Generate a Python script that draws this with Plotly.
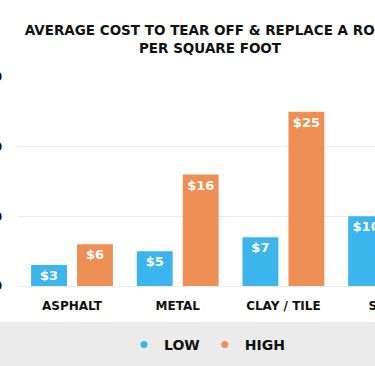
import plotly.graph_objects as go

categories = ["ASPHALT", "METAL", "CLAY / TILE", "SLATE"]
low_values = [3, 5, 7, 10]
high_values = [6, 16, 25, 30]
series_names = ["LOW", "HIGH"]
y_ticks = [0, 10, 20, 30]

BLUE = "#3cb4ec"
ORANGE = "#ee8f55"
FONT = "DejaVu Sans"
W = 420

fig = go.Figure()
for name, vals, col in [(series_names[0], low_values, BLUE), (series_names[1], high_values, ORANGE)]:
    fig.add_trace(go.Bar(
        x=categories, y=vals, name=name, marker=dict(color=col, line=dict(width=0)),
        text=[f"${v}" for v in vals], textposition="inside", insidetextanchor="end",
        textangle=0, constraintext="none",
        textfont=dict(family=FONT, size=13, color="white", weight=700),
        showlegend=False, cliponaxis=True,
    ))
    fig.add_trace(go.Scatter(
        x=[None], y=[None], mode="markers", name=name,
        marker=dict(color=col, size=7, symbol="circle"),
    ))

fig.update_layout(
    width=W, height=366,
    margin=dict(l=18, r=0, t=77, b=80),
    paper_bgcolor="white", plot_bgcolor="white",
    barmode="group", bargap=0.13, bargroupgap=0.22,
    title=dict(
        text="AVERAGE COST TO TEAR OFF & REPLACE A ROOF<br>PER SQUARE FOOT",
        x=210 / W, xref="container", xanchor="center",
        y=1 - 35 / 366, yref="container", yanchor="top",
        font=dict(family=FONT, size=13.5, color="#111111", weight=700),
    ),
    xaxis=dict(
        range=[-0.511, -0.511 + (W - 18) / 105.7], showgrid=False, zeroline=False, showline=False,
        ticks="", tickfont=dict(family=FONT, size=12, color="#111111", weight=700),
        ticklabelstandoff=11, automargin=False,
    ),
    yaxis=dict(
        range=[0, 30], tickvals=y_ticks, tickprefix="$",
        showgrid=True, gridcolor="#ececec", gridwidth=1,
        zeroline=True, zerolinecolor="#ececec", zerolinewidth=1,
        showline=False, ticks="", ticklabelstandoff=15,
        tickfont=dict(family=FONT, size=12, color="#111111", weight=700),
        automargin=False,
    ),
    legend=dict(
        orientation="h", x=207 / W, xref="container", xanchor="center",
        y=21 / 366, yref="container", yanchor="middle",
        font=dict(family=FONT, size=14, color="#111111", weight=700),
        bgcolor="rgba(0,0,0,0)", itemwidth=30,
    ),
    shapes=[dict(
        type="rect", xref="paper", yref="paper", x0=-0.2, x1=1.2,
        y0=-0.5, y1=-36 / 209, fillcolor="#ebebeb", line=dict(width=0), layer="below",
    )],
)

fig.write_html(
    "out.html",
    config={"displayModeBar": False},
    post_script="document.body.style.margin='0';document.documentElement.style.overflow='hidden';document.body.style.overflow='hidden';",
)
